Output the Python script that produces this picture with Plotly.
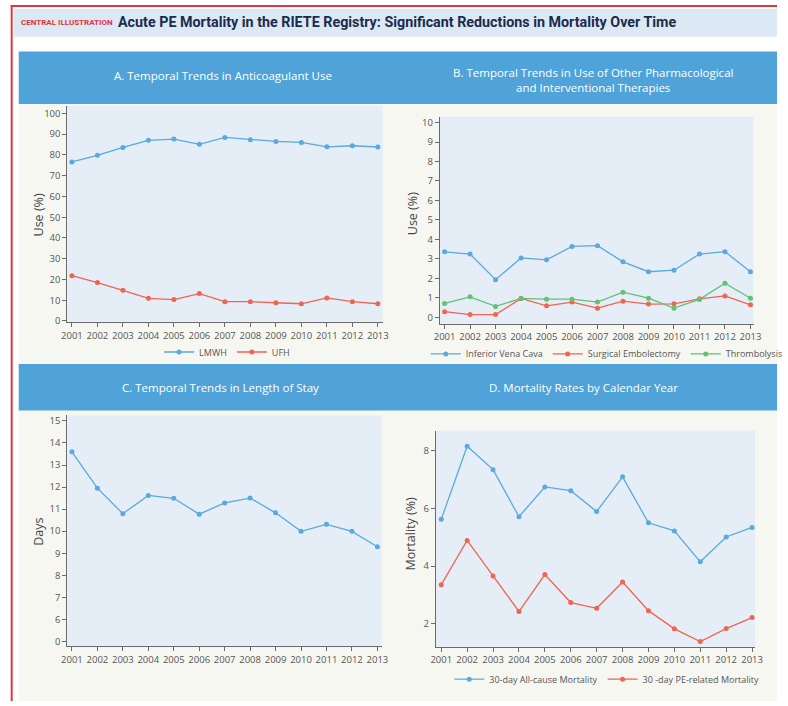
import plotly.graph_objects as go

# ---------------- data ----------------
years = list(range(2001, 2014))
year_labels = [str(y) for y in years]

lmwh = [76.6, 79.8, 83.6, 87.0, 87.6, 85.1, 88.4, 87.3, 86.5, 86.0, 83.9, 84.4, 83.8]
ufh = [21.8, 18.5, 14.8, 10.9, 10.3, 13.2, 9.3, 9.3, 8.8, 8.3, 11.1, 9.3, 8.3]

ivc = [3.36, 3.25, 1.93, 3.05, 2.95, 3.64, 3.68, 2.85, 2.34, 2.42, 3.25, 3.37, 2.34]
surgical = [0.29, 0.14, 0.14, 0.97, 0.59, 0.78, 0.47, 0.83, 0.68, 0.69, 0.95, 1.10, 0.64]
thrombolysis = [0.71, 1.05, 0.56, 0.97, 0.93, 0.93, 0.78, 1.29, 0.98, 0.47, 0.92, 1.75, 0.98]

length_of_stay = [13.6, 11.95, 10.79, 11.62, 11.49, 10.77, 11.28, 11.5, 10.83, 9.99, 10.31, 9.99, 9.29]

mort_all = [5.62, 8.15, 7.34, 5.71, 6.74, 6.61, 5.89, 7.09, 5.50, 5.22, 4.15, 5.01, 5.34]
mort_pe = [3.36, 4.89, 3.66, 2.43, 3.71, 2.74, 2.54, 3.45, 2.46, 1.83, 1.39, 1.84, 2.22]

ticks_a = list(range(0, 101, 10))
ticks_b = list(range(0, 11))
ticks_c_vals = [5, 6, 7, 8, 9, 10, 11, 12, 13, 14, 15]
ticks_c_text = ["0", "6", "7", "8", "9", "10", "11", "12", "13", "14", "15"]
ticks_d = [2, 4, 6, 8]

# ---------------- style ----------------
W, H = 788, 706
BLUE = "#5aa9df"
RED = "#ef6550"
GREEN = "#62c174"
PLOT_BG = "#e5edf7"
PANEL_BG = "#f7f7f2"
BANNER = "#4fa3d8"
HEADER_BG = "#dde8f5"
FRAME = "#e0343b"
AXIS = "#6b6b6b"
TICKF = dict(family="Open Sans, sans-serif", size=9.5, color="#555555")
FONT = "Open Sans, sans-serif"


def px_x(a, b):
    return [a / W, b / W]


def px_y(top, bottom):
    return [1 - bottom / H, 1 - top / H]


dom = {
    "A": (px_x(62.7, 385), px_y(106, 324)),
    "B": (px_x(443.3, 764), px_y(116.7, 325.3)),
    "C": (px_x(62.7, 384), px_y(418, 650.7)),
    "D": (px_x(439.3, 765.7), px_y(433.3, 651.3)),
}

fig = go.Figure()


def add_line(x, y, name, color, xa, ya, legend, showlegend=True):
    fig.add_trace(go.Scatter(
        x=x, y=y, name=name, mode="lines+markers",
        line=dict(color=color, width=1.3),
        marker=dict(color=color, size=5),
        xaxis=xa, yaxis=ya, legend=legend, showlegend=showlegend,
    ))


add_line(years, lmwh, "LMWH", BLUE, "x", "y", "legend")
add_line(years, ufh, "UFH", RED, "x", "y", "legend")
add_line(years, ivc, "Inferior Vena Cava", BLUE, "x2", "y2", "legend2")
add_line(years, surgical, "Surgical Embolectomy", RED, "x2", "y2", "legend2")
add_line(years, thrombolysis, "Thrombolysis", GREEN, "x2", "y2", "legend2")
add_line(years, length_of_stay, "Length of Stay", BLUE, "x3", "y3", "legend", showlegend=False)
add_line(years, mort_all, "30-day All-cause Mortality", BLUE, "x4", "y4", "legend3")
add_line(years, mort_pe, "30 -day PE-related Mortality", RED, "x4", "y4", "legend3")

common = dict(showline=True, linecolor=AXIS, linewidth=1, ticks="outside", ticklen=4,
              tickcolor=AXIS, tickwidth=1, tickfont=TICKF, showgrid=False, zeroline=False,
              fixedrange=True)


def xaxis(key, rng, anchor):
    return dict(domain=dom[key][0], range=rng, anchor=anchor, tickvals=years,
                ticktext=year_labels, **common)


def yaxis(key, rng, anchor, vals, text=None):
    d = dict(domain=dom[key][1], range=rng, anchor=anchor, tickvals=vals, **common)
    if text is not None:
        d["ticktext"] = text
    return d


shapes = []


def rect(x0, y0, x1, y1, fill):
    shapes.append(dict(type="rect", xref="paper", yref="paper",
                       x0=x0 / W, x1=x1 / W, y0=1 - y1 / H, y1=1 - y0 / H,
                       fillcolor=fill, layer="below", line=dict(width=0)))


rect(8, 8, W, 36, HEADER_BG)
rect(13, 104, W, H, PANEL_BG)
rect(13, 51, W, 104, BANNER)
rect(13, 366, W, 413, BANNER)
for k, (dx, dy) in dom.items():
    shapes.append(dict(type="rect", xref="paper", yref="paper", x0=dx[0], x1=dx[1],
                       y0=dy[0], y1=dy[1], fillcolor=PLOT_BG, layer="below", line=dict(width=0)))
# red frame (left and top) as thin filled strips
rect(4.8, 4, 6.8, H, FRAME)
rect(4.8, 4, W, 6, FRAME)

annotations = []


def text(x, y, s, size, color, family=FONT, xanchor="center", angle=0):
    annotations.append(dict(x=x / W, y=1 - y / H, xref="paper", yref="paper", text=s,
                            showarrow=False, xanchor=xanchor, yanchor="middle",
                            textangle=angle, font=dict(family=family, size=size, color=color)))


text(13, 21.5, "<b>CENTRAL ILLUSTRATION</b>", 8, FRAME,
     family="Liberation Sans Narrow, Roboto, sans-serif", xanchor="left")
text(112, 21.5, "<b>Acute PE Mortality in the RIETE Registry: Significant Reductions in Mortality Over Time</b>",
     14.3, "#1c2b4b", family="Roboto, sans-serif", xanchor="left")

text(222, 75, "A. Temporal Trends in Anticoagulant Use", 11.5, "white")
text(600, 79.5, "B. Temporal Trends in Use of Other Pharmacological<br>and Interventional Therapies", 11.5, "white")
text(219, 390, "C. Temporal Trends in Length of Stay", 11.5, "white")
text(590, 390, "D. Mortality Rates by Calendar Year", 11.5, "white")

text(33, 216, "Use (%)", 12.5, "#444444", angle=-90)
text(415, 215, "Use (%)", 12.5, "#444444", angle=-90)
text(33, 535, "Days", 12.5, "#444444", angle=-90)
text(413, 537, "Mortality (%)", 12.5, "#444444", angle=-90)

legend_style = dict(orientation="h", xanchor="center", yanchor="middle", bgcolor="rgba(0,0,0,0)",
                    font=dict(family=FONT, size=9, color="#555555"), itemclick=False,
                    itemdoubleclick=False, tracegroupgap=0, itemwidth=30)

fig.update_layout(
    width=W, height=H, margin=dict(l=0, r=0, t=0, b=0),
    paper_bgcolor="white", plot_bgcolor="rgba(0,0,0,0)",
    showlegend=True,
    xaxis=xaxis("A", [2000.82, 2013.19], "y"),
    yaxis=yaxis("A", [-0.6, 103.5], "x", ticks_a),
    xaxis2=xaxis("B", [2000.81, 2013.12], "y2"),
    yaxis2=yaxis("B", [-0.32, 10.3], "x2", ticks_b),
    xaxis3=xaxis("C", [2000.82, 2013.17], "y3"),
    yaxis3=yaxis("C", [4.78, 15.25], "x3", ticks_c_vals, ticks_c_text),
    xaxis4=xaxis("D", [2000.79, 2013.12], "y4"),
    yaxis4=yaxis("D", [1.21, 8.69], "x4", ticks_d),
    legend=dict(x=226 / W, y=1 - 354 / H, **legend_style),
    legend2=dict(x=614 / W, y=1 - 356 / H, **legend_style),
    legend3=dict(x=614 / W, y=1 - 684 / H, **legend_style),
    shapes=shapes, annotations=annotations,
)

fig.write_html("out.html", config={"displayModeBar": False},
               post_script="document.body.style.margin='0';document.body.style.overflow='hidden';"
                           "document.documentElement.style.overflow='hidden';")
